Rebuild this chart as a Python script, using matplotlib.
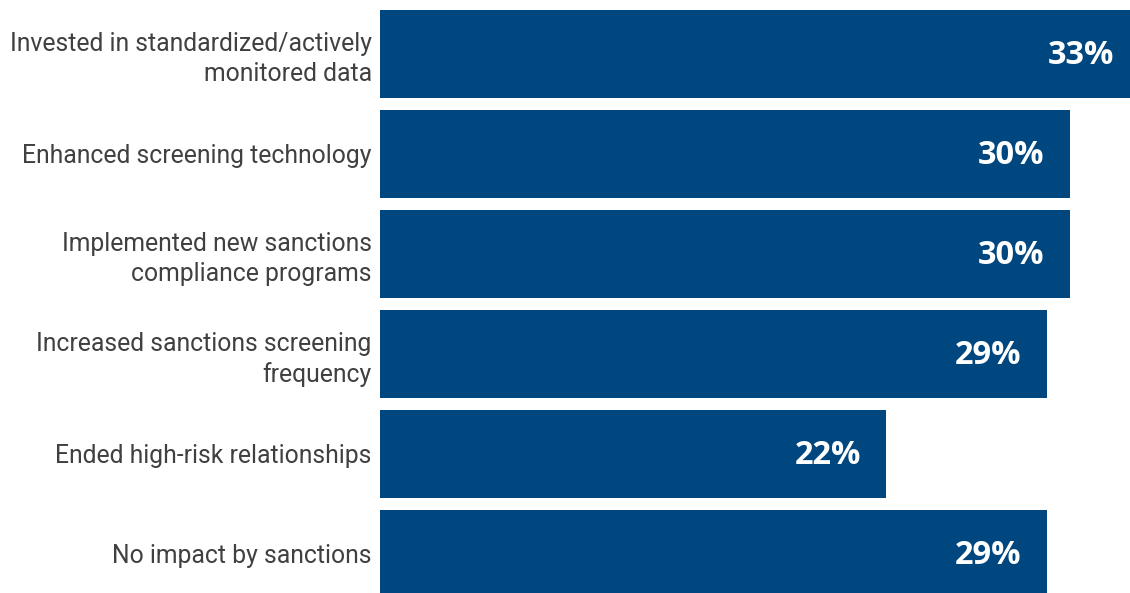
import matplotlib
matplotlib.use("Agg")
import matplotlib.pyplot as plt

# Survey responses: actions taken in reaction to sanctions
categories = [
    "Invested in standardized/actively\nmonitored data",
    "Enhanced screening technology",
    "Implemented new sanctions\ncompliance programs",
    "Increased sanctions screening\nfrequency",
    "Ended high-risk relationships",
    "No impact by sanctions",
]
values = [33, 30, 30, 29, 22, 29]

BAR_COLOR = "#00467f"
LABEL_COLOR = "#404040"

fig = plt.figure(figsize=(11.30, 5.93), dpi=100)
ax = fig.add_axes([380 / 1130, 0, 1 - 380 / 1130, 1])

ypos = list(range(len(categories)))
ax.barh(ypos, values, height=0.88, color=BAR_COLOR, edgecolor="none")

# value labels sit inside the right end of each bar
for y, v in zip(ypos, values):
    ax.text(v - 1.1, y + 0.01, f"{v}%", ha="right", va="center", color="white",
            fontsize=23.5, fontweight="bold", family="Open Sans")

ax.set_xlim(0, 750 / 23)
ax.set_ylim(5.39, -0.54)
ax.set_yticks(ypos)
ax.set_yticklabels(categories, fontsize=17.8, family="Roboto", color=LABEL_COLOR,
                   linespacing=1.3)
ax.tick_params(axis="y", length=0, pad=6)
ax.set_xticks([])
for side in ax.spines.values():
    side.set_visible(False)

fig.savefig("out.png", dpi=100)
